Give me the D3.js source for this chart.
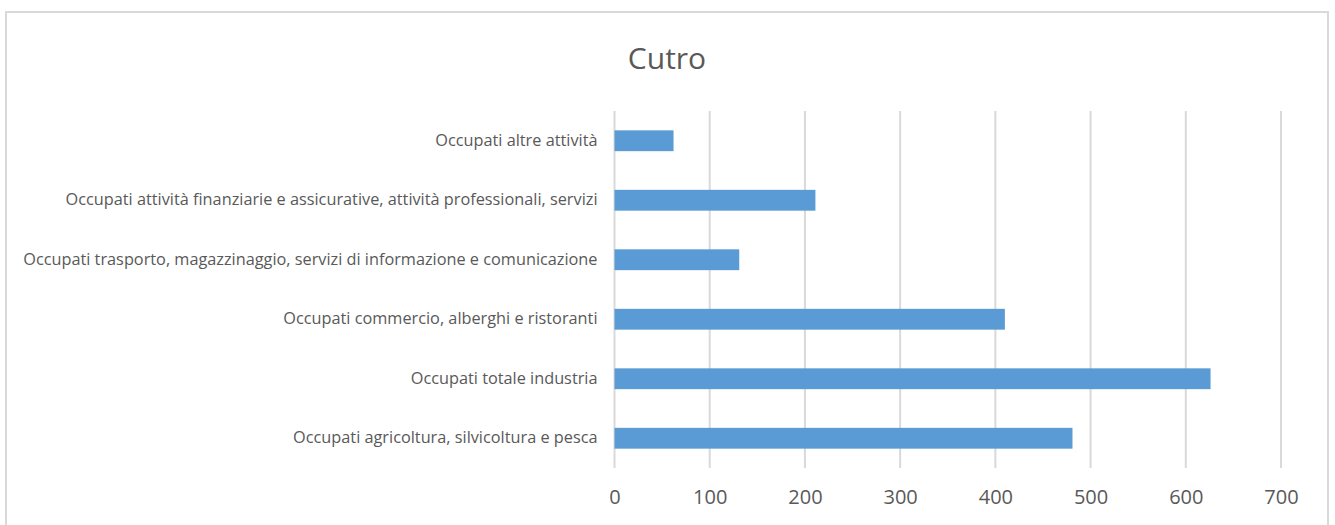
<!DOCTYPE html>
<html>
<head>
<meta charset="utf-8">
<script src="https://cdn.jsdelivr.net/npm/d3@7"></script>
<style>
    body { margin: 0; background: #ffffff; }
    #hbar_chart text { font-family: "Open Sans", "Noto Sans", sans-serif; fill: #595959; }
</style>
</head>
<body>
<div id="hbar_chart"></div>
<script>
// Categories, bottom to top as they appear on the chart
const categories = [
    "Occupati agricoltura, silvicoltura e pesca",
    "Occupati totale industria",
    "Occupati commercio, alberghi e ristoranti",
    "Occupati trasporto, magazzinaggio, servizi di informazione e comunicazione",
    "Occupati attività finanziarie e assicurative, attività professionali, servizi",
    "Occupati altre attività"
];
const occupati = [481, 626, 410, 131, 211, 62];
const xTicks = [0, 100, 200, 300, 400, 500, 600, 700];
const chartTitle = "Cutro";

function create_hbar_chart(width, height) {
    // Plot area margins
    const margin = { top: 111, right: 54, bottom: 57, left: 614.5 };
    const innerWidth = width - margin.left - margin.right;
    const innerHeight = height - margin.top - margin.bottom;

    d3.select("#hbar_chart").select("svg").remove();

    const svgRoot = d3.select("#hbar_chart").append("svg")
        .attr("width", width)
        .attr("height", height);

    // Chart frame (open at the bottom edge)
    svgRoot.append("rect")
        .attr("x", 6)
        .attr("y", 12)
        .attr("width", 1322)
        .attr("height", height + 20)
        .attr("fill", "none")
        .attr("stroke", "#d9d9d9")
        .attr("stroke-width", 2);

    const svg = svgRoot.append("g")
        .attr("transform", "translate(" + margin.left + "," + margin.top + ")");

    const data = categories.map(function (c, i) { return { name: c, value: occupati[i] }; });

    // Scales
    const x = d3.scaleLinear()
        .domain([0, 700])
        .range([0, innerWidth]);

    const y = d3.scaleBand()
        .domain(categories)
        .range([innerHeight, 0])
        .paddingInner(0.65)
        .paddingOuter(0.325);

    // Vertical gridlines
    svg.selectAll(".grid")
        .data(xTicks)
        .enter().append("line")
        .attr("class", "grid")
        .attr("x1", function (d) { return x(d); })
        .attr("x2", function (d) { return x(d); })
        .attr("y1", 0)
        .attr("y2", innerHeight)
        .attr("stroke", "#d9d9d9")
        .attr("stroke-width", 2);

    // Bars
    svg.selectAll(".hbar")
        .data(data)
        .enter().append("rect")
        .attr("class", "hbar")
        .attr("x", x(0))
        .attr("y", function (d) { return y(d.name); })
        .attr("width", function (d) { return x(d.value) - x(0); })
        .attr("height", y.bandwidth())
        .attr("fill", "#5b9bd5");

    // x axis labels
    const xAxis = d3.axisBottom(x)
        .tickValues(xTicks)
        .tickSize(0)
        .tickPadding(22)
        .tickFormat(d3.format(".0f"));

    const gx = svg.append("g")
        .attr("transform", "translate(0," + innerHeight + ")")
        .call(xAxis);
    gx.select(".domain").remove();
    gx.selectAll("text")
        .style("font-size", "20px")
        .attr("fill", "#595959");

    // y axis labels
    const yAxis = d3.axisLeft(y)
        .tickSize(0)
        .tickPadding(17);

    const gy = svg.append("g").call(yAxis);
    gy.select(".domain").remove();
    gy.selectAll("text")
        .style("font-size", "16.3px")
        .attr("fill", "#595959");

    // Title
    svgRoot.append("text")
        .attr("text-anchor", "middle")
        .attr("x", 667)
        .attr("y", 69)
        .style("font-size", "30px")
        .text(chartTitle);
}

create_hbar_chart(1335, 525);
</script>
</body>
</html>
